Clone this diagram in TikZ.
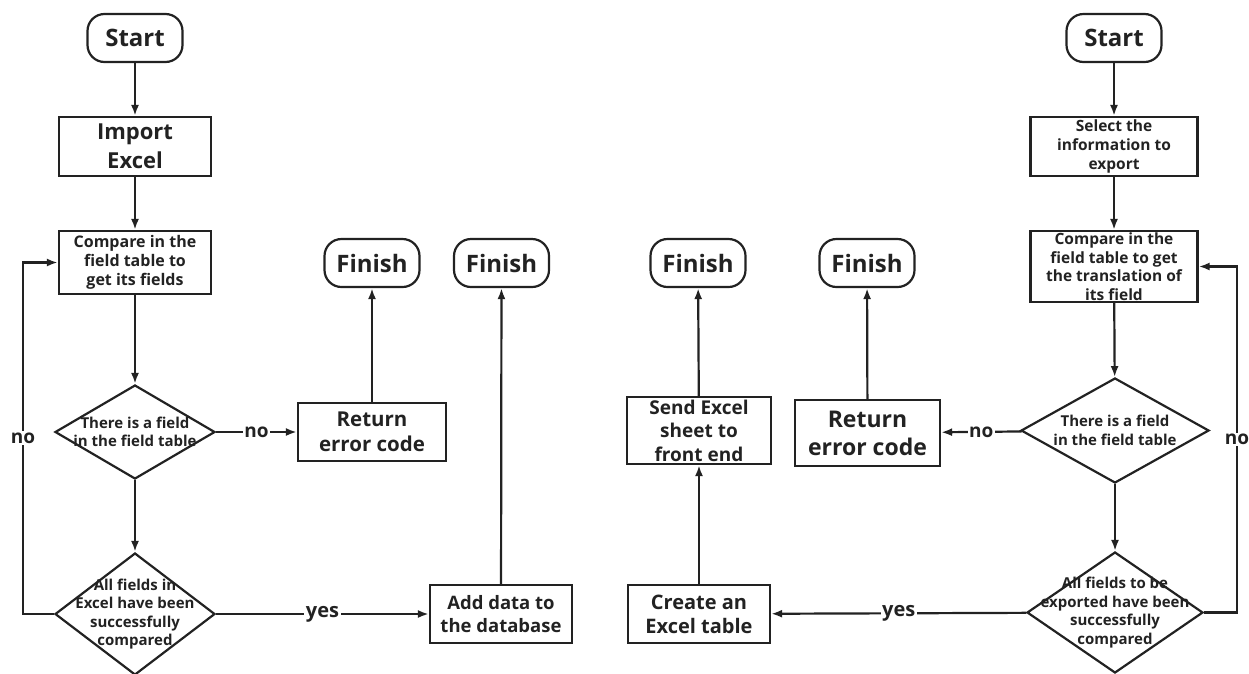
\documentclass[tikz,border=0pt]{standalone}
\usepackage{fontspec}
\setmainfont{Open Sans}
\usetikzlibrary{shapes.geometric,arrows.meta}
\definecolor{ink}{HTML}{222222}
\newcommand\myfs[2]{\fontsize{#1}{#2}\selectfont}
\begin{document}
\begin{tikzpicture}[x=1pt,y=-1pt,
 line width=2.2pt, color=ink,
 term/.style={draw,rectangle,rounded corners=17pt,minimum width=95pt,minimum height=48pt,inner sep=0pt,font=\bfseries\myfs{24}{28}},
 box/.style={draw,rectangle,align=center,inner sep=0pt},
 dia/.style={draw,diamond,inner sep=0pt},
 dtext/.style={align=center,font=\bfseries\myfs{15}{18.5}},
 arr/.style={-{Latex[length=11pt,width=8pt]}},
 lbl/.style={fill=white,inner sep=1.5pt,font=\bfseries\myfs{19}{20}}
]
\useasboundingbox (0,0) rectangle (1249,673);

% ---------- left flow ----------
\node[term] (s1) at (135,38) {Start};
\node[box,minimum width=152pt,minimum height=59pt,font=\bfseries\myfs{22}{29}] (imp) at (135,146.5) {Import\\Excel};
\node[box,minimum width=152pt,minimum height=63pt,font=\bfseries\myfs{16}{19}] (cmp1) at (135,262.5) {Compare in the\\field table to\\get its fields};
\node[dia,minimum width=160pt,minimum height=94pt,label={[dtext]center:There is a field\\in the field table}] (d1) at (135,432) {};
\node[box,minimum width=148pt,minimum height=58pt,font=\bfseries\myfs{20.5}{25}] (ret1) at (372,432) {Return\\error code};
\node[term] (f1) at (372,263) {Finish};
\node[term] (f2) at (501.5,263) {Finish};
\node[dia,minimum width=160pt,minimum height=122pt,label={[dtext]center:All fields in\\Excel have been\\successfully\\compared}] (d2) at (135,614) {};
\node[box,minimum width=142pt,minimum height=58pt,font=\bfseries\myfs{18.5}{23}] (add) at (501,614) {Add data to\\the database};
\coordinate (lx) at (23,437);

\draw[arr] (s1) -- (imp);
\draw[arr] (imp) -- (cmp1);
\draw[arr] (cmp1) -- (d1);
\draw[arr] (d1) -- node[lbl]{no} (ret1);
\draw[arr] (ret1) -- (f1);
\draw[arr] (d1) -- (d2);
\draw[arr] (d2) -- node[lbl,font=\bfseries\myfs{20}{20}]{yes} (add);
\draw[arr] (add) -- (f2);
\draw[arr] (d2.west) -- (d2.west -| lx) -- node[lbl]{no} (cmp1.west -| lx) -- (cmp1.west);

% ---------- right flow ----------
\node[term] (s2) at (1114,38) {Start};
\node[box,minimum width=167pt,minimum height=59pt,font=\bfseries\myfs{15.5}{19}] (sel) at (1114,146.5) {Select the\\information to\\export};
\node[box,minimum width=167pt,minimum height=71pt,font=\bfseries\myfs{15.5}{18.5}] (cmp2) at (1114,266.5) {Compare in the\\field table to get\\the translation of\\its field};
\node[dia,minimum width=188pt,minimum height=105pt,label={[dtext]center:There is a field\\in the field table}] (d3) at (1115,430.5) {};
\node[box,minimum width=145pt,minimum height=66pt,font=\bfseries\myfs{23}{28}] (ret2) at (867.5,433) {Return\\error code};
\node[term] (f3) at (867,263) {Finish};
\node[term] (f4) at (698,263) {Finish};
\node[box,minimum width=144pt,minimum height=67pt,font=\bfseries\myfs{19}{23.5}] (send) at (699,430.5) {Send Excel\\sheet to\\front end};
\node[box,minimum width=142pt,minimum height=58pt,font=\bfseries\myfs{20}{24}] (crt) at (699,614) {Create an\\Excel table};
\node[dia,minimum width=176pt,minimum height=121pt,label={[dtext]center:All fields to be\\exported have been\\successfully\\compared}] (d4) at (1115,612.5) {};
\coordinate (rx) at (1237,438);

\draw[arr] (s2) -- (sel);
\draw[arr] (sel) -- (cmp2);
\draw[arr] (cmp2) -- (d3);
\draw[arr] (d3) -- node[lbl]{no} (ret2);
\draw[arr] (ret2) -- (f3);
\draw[arr] (d3) -- (d4);
\draw[arr] (d4) -- node[lbl,font=\bfseries\myfs{20}{20}]{yes} (crt);
\draw[arr] (crt) -- (send);
\draw[arr] (send) -- (f4);
\draw[arr] (d4.east) -- (d4.east -| rx) -- node[lbl]{no} (cmp2.east -| rx) -- (cmp2.east);
\end{tikzpicture}
\end{document}
